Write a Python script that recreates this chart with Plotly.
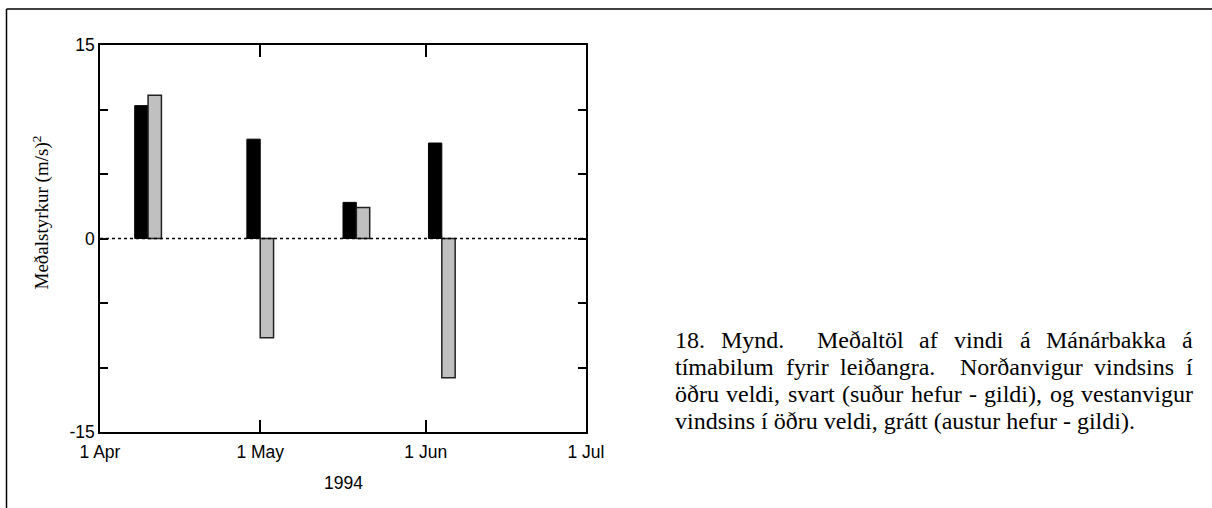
import plotly.graph_objects as go

# Period start dates and mean squared wind components, (m/s)^2
periods = ["1994-04-10", "1994-05-01", "1994-05-19", "1994-06-04"]
north_sq = [10.3, 7.7, 2.8, 7.4]     # black: northward component squared (south negative)
west_sq = [11.1, -7.7, 2.4, -10.8]   # grey: westward component squared (east negative)

y_major = [-15, 0, 15]
y_major_text = ["-15", "0", "15"]
y_minor = [-10, -5, 5, 10]
x_ticks = ["1994-04-01", "1994-05-01", "1994-06-01", "1994-07-01"]

caption_lines = [
    "18. Mynd.  Meðaltöl af vindi á Mánárbakka á",
    "tímabilum fyrir leiðangra.  Norðanvigur vindsins í",
    "öðru veldi, svart (suður hefur - gildi), og vestanvigur",
    "vindsins í öðru veldi, grátt (austur hefur - gildi).",
]

DAY_MS = 86400000
bar_w = 2.5 * DAY_MS

W, H = 1212, 508
L, R, T, B = 100, 626, 45, 76
pw, ph = W - L - R, H - T - B


def px(xp):
    return (xp - L) / pw


def py(yp):
    return (H - B - yp) / ph


sans = "Liberation Sans, Arial, sans-serif"
serif = "Liberation Serif, Times New Roman, serif"

# Times-Roman advance widths (1/1000 em), used to justify the caption lines
TIMES_W = {
    " ": 250, "(": 333, ")": 333, ",": 250, "-": 333, ".": 250, "1": 500, "8": 500,
    "M": 889, "N": 722, "a": 444, "b": 500, "d": 500, "e": 444, "f": 333, "g": 500,
    "h": 500, "i": 278, "k": 500, "l": 278, "m": 778, "n": 500, "o": 500, "r": 333,
    "s": 389, "t": 278, "u": 500, "v": 500, "y": 500, "á": 444, "í": 278, "ö": 500,
    "ð": 500,
}
CAP_SIZE = 24
CAP_X0, CAP_X1 = 673, 1191
CAP_Y0, CAP_DY = 339.5, 27.3


def text_width(s, size):
    return sum(TIMES_W.get(c, 500) for c in s) * size / 1000.0


def justified_words(line, size, x0, x1):
    """Split a line into words with left positions spread across [x0, x1]."""
    words, gaps, cur, nsp = [], [], "", 0
    for c in line:
        if c == " ":
            if cur:
                words.append(cur)
                cur = ""
                nsp = 0
            nsp += 1
        else:
            if not cur and words:
                gaps.append(nsp)
            cur += c
    words.append(cur)
    space = TIMES_W[" "] * size / 1000.0
    total_sp = sum(gaps)
    natural = sum(text_width(w, size) for w in words)
    extra = (x1 - x0 - natural - total_sp * space) / total_sp
    out, x = [], x0
    for i, w in enumerate(words):
        out.append((w, x))
        x += text_width(w, size)
        if i < len(gaps):
            x += gaps[i] * (space + extra)
    return out


fig = go.Figure()
fig.add_trace(go.Bar(
    x=periods, y=north_sq, width=bar_w, offset=-bar_w,
    marker=dict(color="black", line=dict(color="black", width=1)),
    showlegend=False,
))
fig.add_trace(go.Bar(
    x=periods, y=west_sq, width=bar_w, offset=0,
    marker=dict(color="#c0c0c0", line=dict(color="#222222", width=1.5)),
    showlegend=False,
))

shapes = [
    # dotted zero line
    dict(type="line", xref="paper", yref="y", x0=0, x1=1, y0=0, y1=0,
         line=dict(color="black", width=1.5, dash="dot")),
    # page frame (left and top edges)
    dict(type="line", xref="paper", yref="paper", x0=px(6.5), x1=px(6.5),
         y0=py(9), y1=py(H + 5), line=dict(color="black", width=1.5)),
    dict(type="line", xref="paper", yref="paper", x0=px(6.5), x1=px(W + 5),
         y0=py(9), y1=py(9), line=dict(color="black", width=1.5)),
]

annotations = [
    dict(text="Meðalstyrkur (m/s)<sup>2</sup>", xref="paper", yref="paper",
         x=px(41), y=py(212.5), textangle=-90, showarrow=False,
         xanchor="center", yanchor="middle",
         font=dict(family=serif, size=19, color="black")),
    dict(text="1994", xref="paper", yref="paper", x=0.5, y=py(483),
         showarrow=False, xanchor="center", yanchor="middle",
         font=dict(family=sans, size=17.5, color="black")),
]

cap_font = dict(family=serif, size=CAP_SIZE, color="black")
for i, line in enumerate(caption_lines):
    yc = py(CAP_Y0 + CAP_DY * i)
    if i < len(caption_lines) - 1:
        for word, xw in justified_words(line, CAP_SIZE, CAP_X0, CAP_X1):
            annotations.append(dict(
                text=word, xref="paper", yref="paper", x=px(xw), y=yc,
                showarrow=False, xanchor="left", yanchor="middle",
                font=cap_font,
            ))
    else:
        annotations.append(dict(
            text=line, xref="paper", yref="paper", x=px(CAP_X0), y=yc,
            showarrow=False, xanchor="left", yanchor="middle", font=cap_font,
        ))

fig.update_layout(
    width=W, height=H,
    margin=dict(l=L, r=R, t=T, b=B, pad=0),
    paper_bgcolor="white", plot_bgcolor="white",
    barmode="overlay",
    shapes=shapes, annotations=annotations,
    xaxis=dict(
        type="date", range=["1994-04-01", "1994-07-01"],
        tickvals=x_ticks, tickformat="%-d %b",
        ticks="inside", ticklen=12, tickwidth=1.5, tickcolor="black",
        ticklabelstandoff=3,
        showline=True, linecolor="black", linewidth=1.5, mirror="ticks",
        showgrid=False, zeroline=False,
        tickfont=dict(family=sans, size=17.5, color="black"),
    ),
    yaxis=dict(
        range=[-15, 15], tickvals=y_major, ticktext=y_major_text,
        ticks="inside", ticklen=8, tickwidth=1.5, tickcolor="black",
        minor=dict(tickvals=y_minor, ticks="inside", ticklen=8,
                   tickwidth=1.5, tickcolor="black", showgrid=False),
        showline=True, linecolor="black", linewidth=1.5, mirror="ticks",
        showgrid=False, zeroline=False,
        tickfont=dict(family=sans, size=17.5, color="black"),
    ),
)

fig.write_html("out.html")
